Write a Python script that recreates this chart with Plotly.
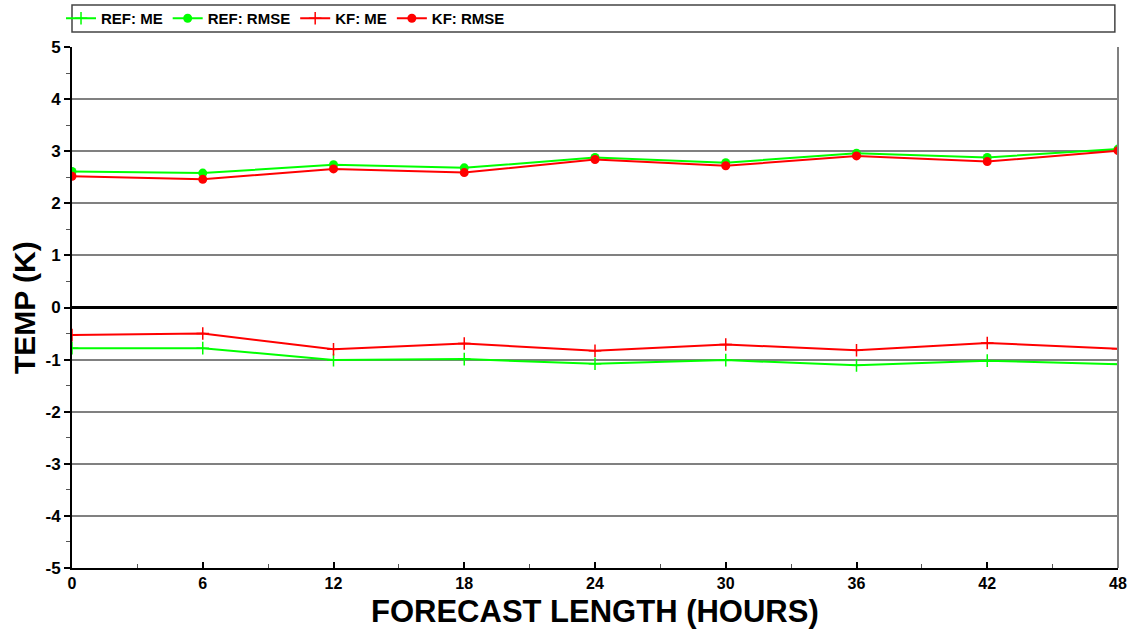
import plotly.graph_objects as go

hours = [0, 6, 12, 18, 24, 30, 36, 42, 48]
ref_me = [-0.78, -0.78, -1.01, -0.99, -1.08, -1.01, -1.11, -1.02, -1.09]
ref_rmse = [2.61, 2.58, 2.74, 2.68, 2.88, 2.78, 2.96, 2.88, 3.04]
kf_me = [-0.53, -0.50, -0.80, -0.69, -0.83, -0.71, -0.82, -0.68, -0.79]
kf_rmse = [2.52, 2.46, 2.66, 2.59, 2.84, 2.72, 2.91, 2.80, 3.01]
y_ticks = [-5, -4, -3, -2, -1, 0, 1, 2, 3, 4, 5]
x_ticks = hours

GREEN = "#00ff00"
RED = "#ff0000"
FONT = "Liberation Sans"

fig = go.Figure()
fig.add_trace(go.Scatter(x=hours, y=ref_me, name="REF: ME", mode="lines+markers",
                         line=dict(color=GREEN, width=2),
                         marker=dict(symbol="cross-thin", size=9, line=dict(color=GREEN, width=1.5))))
fig.add_trace(go.Scatter(x=hours, y=ref_rmse, name="REF: RMSE", mode="lines+markers",
                         line=dict(color=GREEN, width=2),
                         marker=dict(symbol="circle", size=9, color=GREEN)))
fig.add_trace(go.Scatter(x=hours, y=kf_me, name="KF: ME", mode="lines+markers",
                         line=dict(color=RED, width=2),
                         marker=dict(symbol="cross-thin", size=9, line=dict(color=RED, width=1.5))))
fig.add_trace(go.Scatter(x=hours, y=kf_rmse, name="KF: RMSE", mode="lines+markers",
                         line=dict(color=RED, width=2),
                         marker=dict(symbol="circle", size=9, color=RED)))

fig.update_layout(
    width=1134, height=631,
    margin=dict(l=72, r=16, t=47, b=63, autoexpand=False),
    paper_bgcolor="white", plot_bgcolor="white",
    font=dict(family=FONT, color="black"),
    showlegend=True,
    legend=dict(orientation="h", x=-0.0105, xanchor="left", y=1.0547, yanchor="middle",
                font=dict(family=FONT, size=15, color="black", weight="bold"),
                bgcolor="rgba(0,0,0,0)", itemwidth=30, tracegroupgap=0),
    xaxis=dict(range=[0, 48], tickvals=x_ticks, ticktext=[str(v) for v in x_ticks],
               showgrid=False, zeroline=False, showline=True, linecolor="black", linewidth=2,
               ticks="inside", ticklen=6, tickwidth=1.5, tickcolor="black",
               minor=dict(dtick=3, ticks="inside", ticklen=4, tickcolor="#555", tickwidth=1, showgrid=False),
               tickfont=dict(family=FONT, size=16, color="black", weight="bold")),
    yaxis=dict(range=[-5, 5], tickvals=y_ticks, ticktext=[str(v) for v in y_ticks],
               showgrid=True, gridcolor="#808080", gridwidth=1.5,
               zeroline=True, zerolinecolor="black", zerolinewidth=2.5,
               showline=True, linecolor="black", linewidth=2,
               ticks="outside", ticklen=6, tickwidth=1.5, tickcolor="black",
               minor=dict(dtick=0.5, ticks="outside", ticklen=4, tickcolor="#555", tickwidth=1, showgrid=False),
               tickfont=dict(family=FONT, size=17, color="black", weight="bold")),
    annotations=[
        dict(text="FORECAST LENGTH (HOURS)", xref="paper", yref="paper", x=0.5, y=-0.0826,
             xanchor="center", yanchor="middle", showarrow=False,
             font=dict(family=FONT, size=31, color="black", weight="bold")),
        dict(text="TEMP (K)", xref="paper", yref="paper", x=-0.0454, y=0.5,
             xanchor="center", yanchor="middle", showarrow=False, textangle=-90,
             font=dict(family=FONT, size=30, color="black", weight="bold")),
    ],
    shapes=[
        dict(type="rect", xref="paper", yref="paper", x0=0, x1=0.997, y0=1.0288, y1=1.0806,
             line=dict(color="#444", width=1.5), fillcolor="rgba(0,0,0,0)", layer="below"),
        dict(type="line", xref="paper", yref="paper", x0=1, x1=1, y0=0, y1=1,
             line=dict(color="#808080", width=2)),
    ],
)

fig.write_html("out.html")
